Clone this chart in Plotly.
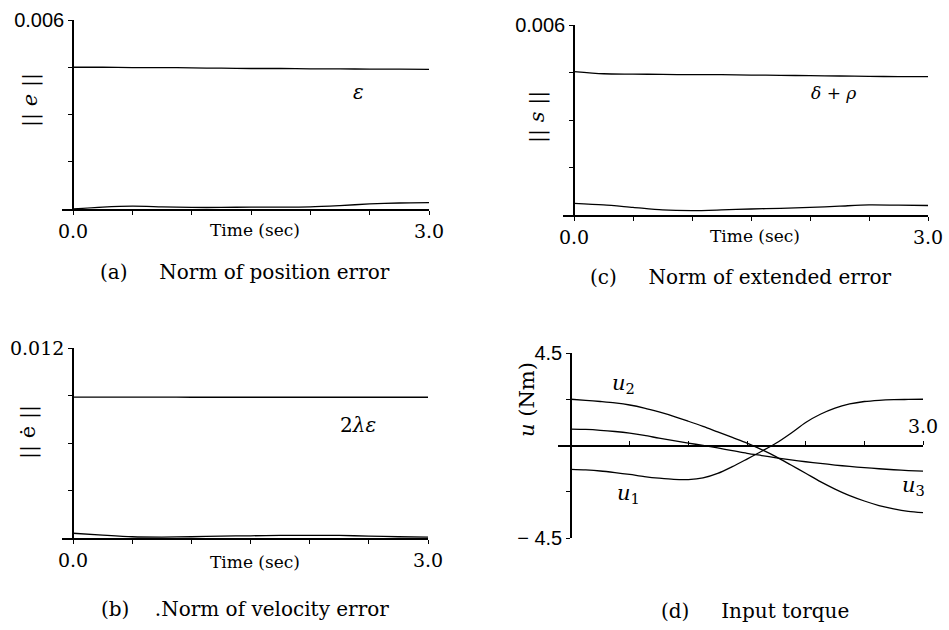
import plotly.graph_objects as go

W, H = 949, 630

# ---------------- data ----------------
t = [0.0, 0.25, 0.5, 0.75, 1.0, 1.25, 1.5, 1.75, 2.0, 2.25, 2.5, 2.75, 3.0]

# (a) norm of position error and its bound epsilon
pos_bound = [0.00450, 0.00450, 0.00449, 0.00449, 0.00448, 0.00447, 0.00446,
             0.00446, 0.00445, 0.00445, 0.00444, 0.00444, 0.00443]
pos_err = [0.00000, 0.00006, 0.00009, 0.00007, 0.00005, 0.00005, 0.00006,
           0.00006, 0.00007, 0.00011, 0.00016, 0.00019, 0.00020]

# (b) norm of velocity error and its bound 2*lambda*epsilon
vel_bound = [0.00890, 0.00890, 0.00890, 0.00890, 0.00889, 0.00889, 0.00889,
             0.00889, 0.00889, 0.00889, 0.00889, 0.00889, 0.00889]
vel_err = [0.00030, 0.00018, 0.00008, 0.00006, 0.00008, 0.00012, 0.00014,
           0.00016, 0.00017, 0.00016, 0.00012, 0.00008, 0.00006]

# (c) norm of extended error and its bound delta + rho
ext_bound = [0.00453, 0.00446, 0.00445, 0.00444, 0.00443, 0.00443, 0.00442,
             0.00441, 0.00440, 0.00439, 0.00438, 0.00437, 0.00437]
ext_err = [0.00037, 0.00032, 0.00024, 0.00016, 0.00014, 0.00016, 0.00019,
           0.00021, 0.00024, 0.00028, 0.00032, 0.00031, 0.00030]

# (d) input torques
t_d = [0.0, 0.125, 0.25, 0.375, 0.5, 0.625, 0.75, 0.875, 1.0, 1.125, 1.25, 1.375,
       1.5, 1.625, 1.75, 1.875, 2.0, 2.125, 2.25, 2.375, 2.5, 2.625, 2.75, 2.875, 3.0]
u1 = [-1.16, -1.19, -1.24, -1.32, -1.41, -1.51, -1.59, -1.65, -1.66, -1.58, -1.36, -1.03,
      -0.66, -0.28, 0.12, 0.60, 1.12, 1.52, 1.82, 2.02, 2.14, 2.20, 2.23, 2.24, 2.25]
u2 = [2.25, 2.20, 2.14, 2.07, 1.97, 1.82, 1.63, 1.42, 1.18, 0.93, 0.66, 0.39,
      0.12, -0.20, -0.55, -0.95, -1.35, -1.76, -2.12, -2.44, -2.70, -2.92, -3.08, -3.20, -3.27]
u3 = [0.80, 0.78, 0.74, 0.68, 0.60, 0.49, 0.36, 0.24, 0.12, 0.00, -0.12, -0.25,
      -0.38, -0.49, -0.60, -0.70, -0.79, -0.87, -0.95, -1.02, -1.08, -1.13, -1.18, -1.22, -1.25]

# ticks: labelled (major) and unlabelled (minor)
x_major = [0.0, 3.0]
x_major_text = ["0.0", "3.0"]
x_major_d = [3.0]
x_major_d_text = ["3.0"]
x_minor = [0.5, 1.0, 1.5, 2.0, 2.5]
ya_major, ya_major_text = [0.006], ["0.006"]
ya_minor = [0.0015, 0.003, 0.0045]
yb_major, yb_major_text = [0.012], ["0.012"]
yb_minor = [0.003, 0.006, 0.009]
yd_major, yd_major_text = [-4.5, 4.5], ["\u2212 4.5", "4.5"]
yd_minor = [-2.25, 0, 2.25]

SERIF = "DejaVu Serif"
SANS = "Liberation Sans"

fig = go.Figure()

def px_x(p):
    return p / W

def px_y(p):
    return 1 - p / H

line_style = dict(color="black", width=1.3)
tick_style = dict(ticks="outside", ticklen=4, tickwidth=1.4, tickcolor="black")

# panel geometry in pixels: (x_left, x_yaxis, x_right, y_top, y_bottom)
panels = {
    "a": (62, 73, 429, 20, 209),
    "b": (62, 73, 428, 348, 538),
    "c": (563, 574, 928, 25, 215),
    "d": (558, 571, 923, 353, 538),
}
idx = {"a": "", "b": "2", "c": "3", "d": "4"}

series = {
    "a": (t, [pos_bound, pos_err]),
    "b": (t, [vel_bound, vel_err]),
    "c": (t, [ext_bound, ext_err]),
    "d": (t_d, [u1, u2, u3]),
}
yranges = {"a": [0, 0.006], "b": [0, 0.012], "c": [0, 0.006], "d": [-4.5, 4.5]}
yticks = {"a": (ya_major, ya_major_text, ya_minor), "b": (yb_major, yb_major_text, yb_minor),
          "c": (ya_major, ya_major_text, ya_minor), "d": (yd_major, yd_major_text, yd_minor)}
yfont = {"a": SANS, "b": SERIF, "c": SANS, "d": SANS}

for k, (xl, xa, xr, yt, yb) in panels.items():
    i = idx[k]
    tx, ss = series[k]
    for s in ss:
        fig.add_trace(go.Scatter(x=tx, y=s, mode="lines",
                                 line=dict(shape="spline", smoothing=0.8, **line_style),
                                 xaxis="x" + i, yaxis="y" + i, showlegend=False, hoverinfo="skip"))
    scale = (xr - xa) / 3.0
    x0 = -(xa - xl) / scale
    tv, tt, tm = yticks[k]
    xaxis = dict(domain=[px_x(xl), px_x(xr)], range=[x0, 3.0],
                 showline=True, linecolor="black", linewidth=1.6,
                 tickmode="array",
                 tickvals=x_major if k != "d" else x_major_d,
                 ticktext=x_major_text if k != "d" else x_major_d_text,
                 minor=dict(tickmode="array", tickvals=x_minor, **tick_style),
                 tickfont=dict(family=SERIF, size=19, color="black"),
                 showgrid=False, zeroline=False, fixedrange=True, automargin=False,
                 **tick_style)
    yaxis = dict(domain=[px_y(yb), px_y(yt)], range=yranges[k],
                 showline=True, linecolor="black", linewidth=1.6,
                 tickmode="array", tickvals=tv, ticktext=tt,
                 minor=dict(tickmode="array", tickvals=tm, **tick_style),
                 tickfont=dict(family=yfont[k], size=20 if yfont[k] == SANS else 19, color="black"),
                 showgrid=False, zeroline=False, fixedrange=True, automargin=False,
                 anchor="free", position=px_x(xa), **tick_style)
    if k == "d":
        zero_px = yt + (yb - yt) / 2
        xaxis.update(anchor="free", position=px_y(zero_px), side="top")
    else:
        xaxis.update(anchor="y" + i)
    fig.update_layout(**{"xaxis" + i: xaxis, "yaxis" + i: yaxis})

ann = []
def add(x, y, text, size=18, angle=0, family=SERIF, xanchor="center"):
    ann.append(dict(x=x / W, y=1 - y / H, xref="paper", yref="paper", text=text,
                    showarrow=False, textangle=angle, xanchor=xanchor, yanchor="middle",
                    font=dict(family=family, size=size, color="black")))

# axis titles
add(30, 100, "|| <i>e</i> ||", 21, -90)
add(28, 432, "|| \u0117 ||", 21, -90)
add(537, 117, "|| <i>s</i> ||", 21, -90)
add(527, 400, "<i>u</i> (Nm)", 21, -90)
# Time labels
add(255, 230, "Time (sec)", 17)
add(255, 562, "Time (sec)", 17)
add(755, 236, "Time (sec)", 17)
# curve labels
add(358, 92, "<i>\u03b5</i>", 20)
add(358, 425, "2<i>\u03bb\u03b5</i>", 20)
add(833, 93, "<i>\u03b4</i> + <i>\u03c1</i>", 17)
add(623, 384, "<i>u</i><sub>2</sub>", 21)
add(628, 494, "<i>u</i><sub>1</sub>", 21)
add(913, 486, "<i>u</i><sub>3</sub>", 21)
# captions
add(245, 272, "(a)&nbsp;&nbsp;&nbsp;&nbsp;&nbsp;Norm of position error", 20)
add(245, 609, "(b)&nbsp;&nbsp;&nbsp;&nbsp;.Norm of velocity error", 20)
add(740, 277, "(c)&nbsp;&nbsp;&nbsp;&nbsp;&nbsp;Norm of extended error", 20)
add(755, 611, "(d)&nbsp;&nbsp;&nbsp;&nbsp;&nbsp;Input torque", 20)

fig.update_layout(width=W, height=H, margin=dict(l=0, r=0, t=0, b=0, autoexpand=False),
                  paper_bgcolor="white", plot_bgcolor="white", template="none",
                  annotations=ann, showlegend=False)

fig.write_html("out.html")
